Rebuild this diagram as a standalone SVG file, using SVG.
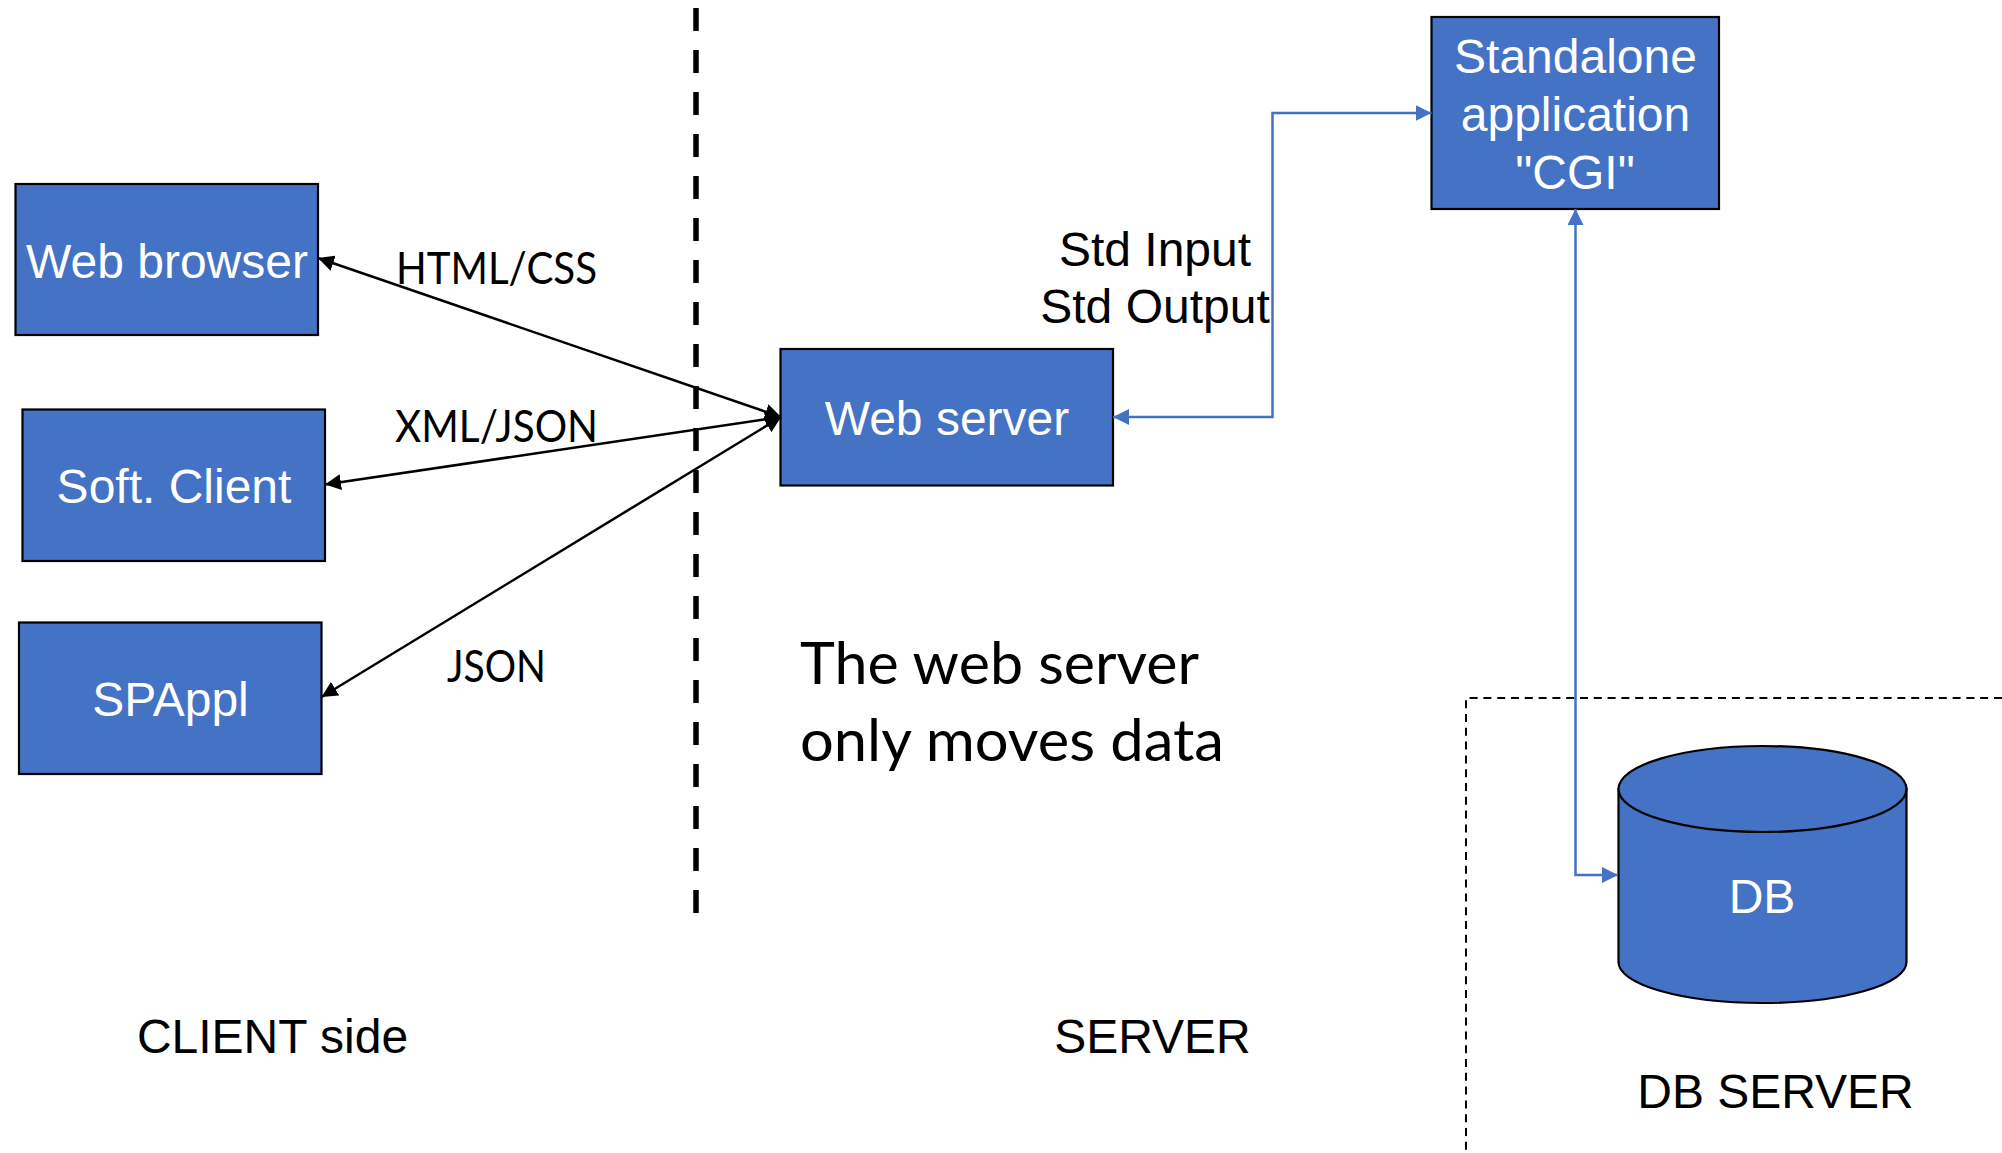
<svg xmlns="http://www.w3.org/2000/svg" width="2002" height="1153" viewBox="0 0 2002 1153">
<style>
.node{fill:#4472C4;stroke:#000;stroke-width:2.2}
.nt{font-family:"Liberation Sans",Arial,sans-serif;font-size:48px;fill:#fff;text-anchor:middle}
.bt{font-family:"Liberation Sans",Arial,sans-serif;font-size:48px;fill:#000;text-anchor:middle}
.lb{font-family:Lato,"Open Sans",sans-serif;font-size:44px;fill:#000}
.note{font-family:Lato,"Open Sans",sans-serif;font-size:58px;fill:#000}
.k{fill:none;stroke:#000;stroke-width:2.5;marker-start:url(#ka);marker-end:url(#ka)}
.b{fill:none;stroke:#4472C4;stroke-width:2.5;marker-start:url(#ba);marker-end:url(#ba)}
</style>
<defs>
<marker id="ka" markerUnits="userSpaceOnUse" markerWidth="16" markerHeight="16" refX="16" refY="8" orient="auto-start-reverse"><path d="M0 0L16 8L0 16Z" fill="#000"/></marker>
<marker id="ba" markerUnits="userSpaceOnUse" markerWidth="16" markerHeight="16" refX="16" refY="8" orient="auto-start-reverse"><path d="M0 0L16 8L0 16Z" fill="#4472C4"/></marker>
</defs>
<g id="boundary-client-server"><line x1="696" y1="8" x2="696" y2="913" stroke="#000" stroke-width="5.5" stroke-dasharray="23 19"/></g>
<g id="db-server-zone"><path d="M2002 698H1466V1153" fill="none" stroke="#000" stroke-width="2" stroke-dasharray="8 5.800"/></g>
<g id="web-browser"><rect class="node" x="15.500" y="184" width="302.500" height="151"/><text class="nt" x="167" y="278">Web browser</text></g>
<g id="soft-client"><rect class="node" x="22.500" y="409.500" width="302.500" height="151.500"/><text class="nt" x="174" y="503">Soft. Client</text></g>
<g id="spappl"><rect class="node" x="19" y="622.500" width="302.500" height="151.500"/><text class="nt" x="170.500" y="716">SPAppl</text></g>
<g id="web-server"><rect class="node" x="780.500" y="349" width="332.500" height="136.500"/><text class="nt" x="947" y="435">Web server</text></g>
<g id="cgi"><rect class="node" x="1431.500" y="17" width="287.500" height="192"/><text class="nt" x="1575.500" y="73">Standalone</text><text class="nt" x="1575.500" y="131">application</text><text class="nt" x="1575" y="189">"CGI"</text></g>
<g id="db"><path class="node" d="M1618.500 789V962A144 41 0 0 0 1906.500 962V789Z"/><ellipse class="node" cx="1762.500" cy="789" rx="144" ry="43"/><text class="nt" x="1762" y="913">DB</text></g>
<g id="connectors">
<line class="k" x1="318" y1="258" x2="781" y2="417"/>
<line class="k" x1="325" y1="484.500" x2="781" y2="417"/>
<line class="k" x1="321.500" y1="697" x2="781" y2="417"/>
<path class="b" d="M1113 417H1272.500V113H1431.500"/>
<path class="b" d="M1575.500 209V875H1618"/>
</g>
<g id="labels">
<text class="lb" x="396" y="284" textLength="201" lengthAdjust="spacingAndGlyphs">HTML/CSS</text>
<text class="lb" x="395" y="442" textLength="203" lengthAdjust="spacingAndGlyphs">XML/JSON</text>
<text class="lb" x="447" y="682" textLength="99" lengthAdjust="spacingAndGlyphs">JSON</text>
<text class="bt" x="1155" y="266">Std Input</text>
<text class="bt" x="1155" y="323">Std Output</text>
<text class="note" x="800" y="684" textLength="399" lengthAdjust="spacingAndGlyphs">The web server</text>
<text class="note" x="800" y="761" textLength="424" lengthAdjust="spacingAndGlyphs">only moves data</text>
<text class="bt" x="272.500" y="1052.500">CLIENT side</text>
<text class="bt" x="1152.500" y="1052.500">SERVER</text>
<text class="bt" x="1775.500" y="1108">DB SERVER</text>
</g>
</svg>
